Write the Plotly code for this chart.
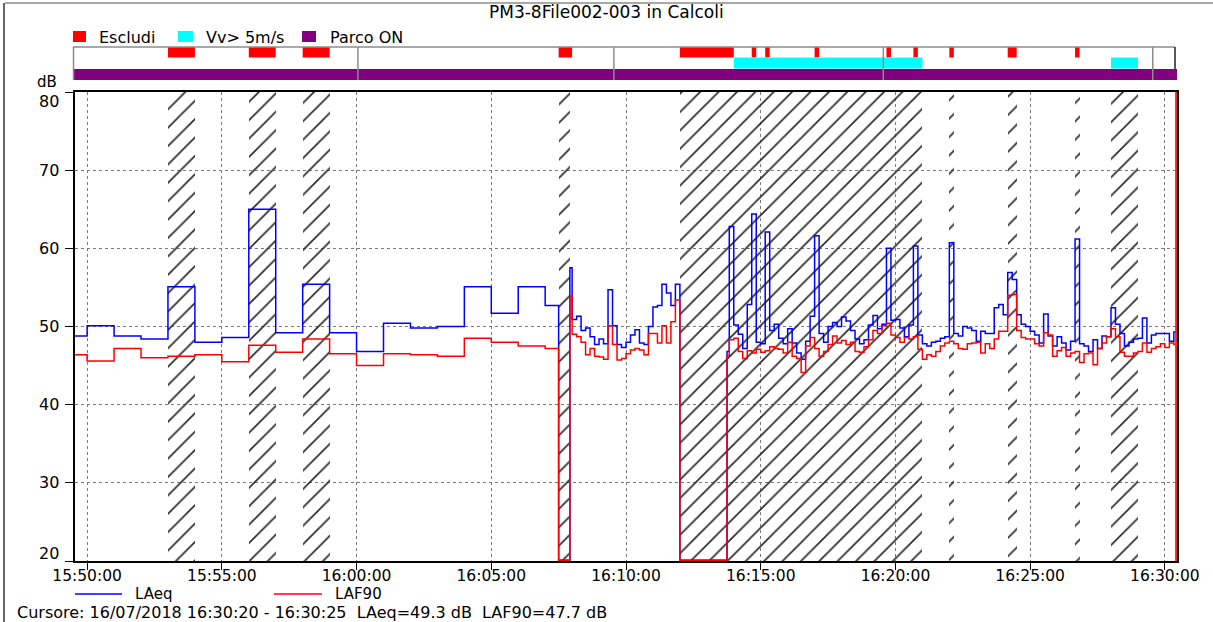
import pandas as pd
import plotly.graph_objects as go

DAY = "2018-07-16 "
T = lambda s: pd.Timestamp(DAY + s)

# ---------------- data ----------------
# 1-minute block (first interval starts at 15:49:33)
min_block_first = "15:49:33"
min_block_start = "15:50:00"
laeq_min = [48.8, 50.1, 48.8, 48.4, 55.1, 48.0, 48.6, 65.0, 49.2, 55.4,
            49.2, 46.8, 50.4, 49.8, 50.0, 55.1, 51.7, 55.1, 52.7]
laf90_min = [46.4, 45.6, 47.2, 46.0, 46.2, 46.4, 45.5, 47.6, 46.7, 48.4,
             46.5, 45.0, 46.5, 46.4, 46.2, 48.5, 48.0, 47.5, 47.2]

# missing data (drawn at bottom of scale)
gap_starts = ["16:07:30", "16:12:00"]
gap_value = 20.1

# short intervals
short_starts = ["16:07:55", "16:13:45"]
laeq_short = [57.5, 46.8]
laf90_short = [53.9, 46.3]

# 10-second block 1 (16:08:00 - 16:12:00)
b1_start = "16:08:00"
laeq_b1 = [50.9, 51.3, 49.5, 49.8, 48.7, 47.7, 48.4, 47.8, 54.7, 50.1,
           47.7, 47.3, 48.0, 48.9, 49.6, 47.9, 47.7, 50.0, 52.5, 52.7,
           55.4, 54.3, 52.7, 55.4]
laf90_b1 = [49.0, 48.7, 48.0, 46.4, 47.2, 46.2, 46.1, 45.8, 50.1, 47.7,
            45.7, 45.9, 46.5, 47.0, 47.2, 47.0, 46.4, 49.1, 49.1, 47.9,
            50.1, 47.9, 50.6, 53.4]

# 10-second block 2 (16:13:50 - 16:22:00)
b2_start = "16:13:50"
laeq_b2 = [62.8, 50.2, 49.0, 47.2, 52.8, 64.4, 48.0, 47.8, 62.1, 49.5,
           50.3, 48.5, 47.8, 49.7, 47.9, 46.6, 45.8, 48.1, 51.3, 61.6,
           49.1, 48.0, 50.0, 50.5, 50.0, 51.2, 50.7, 49.5, 48.4, 47.8,
           48.3, 50.2, 51.4, 49.7, 50.3, 60.0, 50.8, 50.9, 49.8, 48.7,
           50.2, 60.3, 48.9, 47.8, 47.5, 48.0, 48.1, 48.5, 48.7]
laf90_b2 = [48.3, 48.5, 46.8, 45.9, 46.9, 46.6, 47.1, 46.7, 46.9, 47.4,
            47.2, 47.1, 46.6, 48.0, 46.2, 45.9, 44.1, 47.5, 48.6, 47.2,
            46.2, 46.8, 47.7, 48.8, 47.9, 48.2, 47.7, 48.0, 46.8, 46.7,
            47.4, 48.3, 49.5, 49.1, 50.1, 50.4, 48.9, 48.6, 48.0, 48.6,
            48.4, 48.7, 47.1, 45.8, 46.4, 46.2, 46.8, 47.5, 47.9]

# 10-second block 3 (16:22:00 - 16:30:20)
b3_start = "16:22:00"
laeq_b3 = [60.7, 49.1, 48.8, 50.0, 49.8, 49.5, 48.1, 49.4, 49.1, 49.1,
           52.4, 52.8, 51.5, 56.9, 56.0, 51.5, 50.3, 50.0, 49.4, 48.9,
           47.9, 51.6, 48.8, 47.5, 48.7, 47.9, 47.0, 48.1, 61.2, 47.8,
           47.5, 46.8, 48.3, 47.2, 48.8, 48.7, 52.4, 50.3, 49.1, 47.5,
           48.0, 48.4, 48.5, 51.1, 47.9, 48.9, 49.1, 49.1, 49.1, 48.1]
laf90_b3 = [48.1, 47.8, 47.2, 47.1, 47.8, 47.9, 48.0, 46.6, 47.8, 47.2,
            48.4, 49.4, 49.4, 54.0, 54.1, 49.5, 48.6, 48.4, 48.4, 47.8,
            47.5, 49.2, 48.9, 46.2, 46.9, 47.3, 46.2, 46.6, 46.8, 45.4,
            46.5, 46.6, 45.1, 47.2, 47.9, 48.7, 49.7, 48.7, 46.7, 46.2,
            46.2, 46.6, 46.8, 47.9, 46.7, 47.2, 47.4, 47.8, 47.3, 47.9]

# cursor interval
cursor_start, cursor_end = "16:30:20", "16:30:25"
laeq_cursor, laf90_cursor = 49.3, 47.7

# excluded / wind / park-on markers
esc_start = ["15:53:00", "15:56:00", "15:58:00", "16:07:30", "16:12:00", "16:14:40", "16:15:10",
             "16:17:00", "16:19:40", "16:20:40", "16:22:00", "16:24:10", "16:26:40"]
esc_end = ["15:54:00", "15:57:00", "15:59:00", "16:08:00", "16:14:00", "16:14:50", "16:15:20",
           "16:17:10", "16:19:50", "16:20:50", "16:22:10", "16:24:30", "16:26:50"]
vv_start = ["16:14:00", "16:28:00"]
vv_end = ["16:21:00", "16:29:00"]
hatch_start = ["15:53:00", "15:56:00", "15:58:00", "16:07:30", "16:12:00", "16:22:00",
               "16:24:10", "16:26:40", "16:28:00"]
hatch_end = ["15:54:00", "15:57:00", "15:59:00", "16:07:55", "16:21:00", "16:22:10",
             "16:24:30", "16:26:50", "16:29:00"]
band_marks = ["16:00:03", "16:09:33", "16:19:33", "16:29:33"]
file_marks = ["16:07:43", "16:12:56"]

X_RANGE = ["15:49:33", "16:30:27"]
Y_RANGE = [20, 80]
Y_TICKS = [20, 30, 40, 50, 60, 70, 80]

# ---------------- build step series ----------------
times, laeq, laf90 = [], [], []

def add(start, vals_a, vals_b, step_s):
    t0 = T(start)
    for i, (a, b) in enumerate(zip(vals_a, vals_b)):
        times.append(t0 + pd.Timedelta(seconds=step_s * i))
        laeq.append(a)
        laf90.append(b)

times.append(T(min_block_first)); laeq.append(laeq_min[0]); laf90.append(laf90_min[0])
add(min_block_start, laeq_min[1:], laf90_min[1:], 60)
times.append(T(gap_starts[0])); laeq.append(gap_value); laf90.append(gap_value)
add(short_starts[0], [laeq_short[0]], [laf90_short[0]], 5)
add(b1_start, laeq_b1, laf90_b1, 10)
times.append(T(gap_starts[1])); laeq.append(gap_value); laf90.append(gap_value)
add(short_starts[1], [laeq_short[1]], [laf90_short[1]], 5)
add(b2_start, laeq_b2, laf90_b2, 10)
add(b3_start, laeq_b3, laf90_b3, 10)
times.append(T(cursor_start)); laeq.append(laeq_cursor); laf90.append(laf90_cursor)
times.append(T(cursor_end)); laeq.append(laeq_cursor); laf90.append(laf90_cursor)

# ---------------- figure ----------------
W, H = 1213, 622
ML, MR, MT, MB = 75, 36, 92, 61
PW, PH = W - ML - MR, H - MT - MB

def px(X):
    return (X - ML) / PW

def py(Y):
    return (H - MB - Y) / PH

FONT = "DejaVu Sans"
fig = go.Figure()

# hatched (excluded) regions
hs = [T(s) for s in hatch_start]
he = [T(s) for s in hatch_end]
fig.add_trace(go.Bar(
    x=hs, y=[Y_RANGE[1] - Y_RANGE[0]] * len(hs), base=Y_RANGE[0],
    width=[(e - s).total_seconds() * 1000 for s, e in zip(hs, he)], offset=0,
    marker=dict(color="rgba(0,0,0,0)", line=dict(width=0),
                pattern=dict(shape="/", fgcolor="#2a2a2a", bgcolor="rgba(0,0,0,0)", fgopacity=1,
                             size=13, solidity=0.13, fillmode="overlay")),
    hoverinfo="skip", showlegend=False))

fig.add_trace(go.Scatter(x=times, y=laeq, mode="lines", line=dict(color="#0000ff", width=1.5, shape="hv"),
                         name="LAeq", showlegend=False))
fig.add_trace(go.Scatter(x=times, y=laf90, mode="lines", line=dict(color="#ff0000", width=1.5, shape="hv"),
                         name="LAF90", showlegend=False))

# file markers (blue triangles above the plot)
fig.add_trace(go.Scatter(x=[T(s) for s in file_marks], y=[81.2] * len(file_marks), mode="markers",
                         marker=dict(symbol="triangle-down", size=8, color="#0000ff"),
                         cliponaxis=False, showlegend=False, hoverinfo="skip"))

shapes = []
# frame lines
shapes.append(dict(type="line", xref="paper", yref="paper", x0=px(5), x1=px(1213), y0=py(3), y1=py(3),
                   line=dict(color="#8c8c8c", width=1.5)))
shapes.append(dict(type="line", xref="paper", yref="paper", x0=px(4), x1=px(4), y0=py(3), y1=py(622),
                   line=dict(color="#333333", width=1.5)))

# band: purple full row
shapes.append(dict(type="rect", xref="paper", yref="paper", x0=px(73), x1=px(1177), y0=py(80), y1=py(69),
                   fillcolor="#800080", line=dict(width=0)))
for s, e in zip(esc_start, esc_end):
    shapes.append(dict(type="rect", xref="x", yref="paper", x0=T(s), x1=T(e), y0=py(57.5), y1=py(47),
                       fillcolor="#ff0000", line=dict(width=0)))
for s, e in zip(vv_start, vv_end):
    shapes.append(dict(type="rect", xref="x", yref="paper", x0=T(s), x1=T(e), y0=py(68.5), y1=py(57.5),
                       fillcolor="#00ffff", line=dict(width=0)))
# band box
shapes.append(dict(type="line", xref="paper", yref="paper", x0=px(73), x1=px(1175), y0=py(47), y1=py(47),
                   line=dict(color="#8c8c8c", width=1.5)))
shapes.append(dict(type="line", xref="paper", yref="paper", x0=px(73.5), x1=px(73.5), y0=py(80), y1=py(47),
                   line=dict(color="#8c8c8c", width=1.5)))
shapes.append(dict(type="line", xref="paper", yref="paper", x0=px(1175), x1=px(1175), y0=py(69), y1=py(47),
                   line=dict(color="#222222", width=1.5)))
for s in band_marks:
    shapes.append(dict(type="line", xref="x", yref="paper", x0=T(s), x1=T(s), y0=py(80), y1=py(47),
                       line=dict(color="#8c8c8c", width=1.5)))

# cursor line
shapes.append(dict(type="line", xref="x", yref="paper", x0=T(cursor_end), x1=T(cursor_end), y0=0, y1=1,
                   line=dict(color="#ff2020", width=2)))

# band legend squares
for (x0, x1, c) in [(73, 86, "#ff0000"), (178, 193, "#00ffff"), (302, 316, "#800080")]:
    shapes.append(dict(type="rect", xref="paper", yref="paper", x0=px(x0), x1=px(x1), y0=py(42), y1=py(31),
                       fillcolor=c, line=dict(width=0)))
# bottom legend lines
LEG_Y = 594
shapes.append(dict(type="line", xref="paper", yref="paper", x0=px(75), x1=px(122), y0=py(LEG_Y), y1=py(LEG_Y),
                   line=dict(color="#0000ff", width=1.5)))
shapes.append(dict(type="line", xref="paper", yref="paper", x0=px(274), x1=px(322), y0=py(LEG_Y), y1=py(LEG_Y),
                   line=dict(color="#ff0000", width=1.5)))

annotations = [
    dict(text="PM3-8File002-003 in Calcoli", xref="paper", yref="paper", x=px(606), y=py(12),
         xanchor="center", yanchor="middle", showarrow=False, font=dict(size=17)),
    dict(text="Escludi", xref="paper", yref="paper", x=px(97), y=py(37),
         xanchor="left", yanchor="middle", showarrow=False, font=dict(size=16)),
    dict(text="Vv&gt; 5m/s", xref="paper", yref="paper", x=px(204), y=py(37),
         xanchor="left", yanchor="middle", showarrow=False, font=dict(size=16)),
    dict(text="Parco ON", xref="paper", yref="paper", x=px(328), y=py(37),
         xanchor="left", yanchor="middle", showarrow=False, font=dict(size=16)),
    dict(text="dB", xref="paper", yref="paper", x=px(47), y=py(82),
         xanchor="center", yanchor="middle", showarrow=False, font=dict(size=15)),
    dict(text="LAeq", xref="paper", yref="paper", x=px(133), y=py(LEG_Y),
         xanchor="left", yanchor="middle", showarrow=False, font=dict(size=15)),
    dict(text="LAF90", xref="paper", yref="paper", x=px(333), y=py(LEG_Y),
         xanchor="left", yanchor="middle", showarrow=False, font=dict(size=15)),
    dict(text="Cursore: 16/07/2018 16:30:20 - 16:30:25\u00a0\u00a0LAeq=49.3 dB\u00a0\u00a0LAF90=47.7 dB",
         xref="paper", yref="paper", x=px(15), y=py(612.5),
         xanchor="left", yanchor="middle", showarrow=False, font=dict(size=16)),
]
# y tick labels (end labels kept inside the axis span, as in the reference)
for v in Y_TICKS:
    shift = -9 if v == Y_RANGE[1] else (8 if v == Y_RANGE[0] else 0)
    annotations.append(dict(text=str(v), xref="paper", yref="y", x=px(61), y=v, yshift=shift,
                            xanchor="right", yanchor="middle", showarrow=False, font=dict(size=16)))

fig.update_layout(
    width=W, height=H, margin=dict(l=ML, r=MR, t=MT, b=MB),
    paper_bgcolor="white", plot_bgcolor="white", showlegend=False,
    font=dict(family=FONT, size=16, color="black"),
    shapes=shapes, annotations=annotations, bargap=0,
    xaxis=dict(type="date", range=[T(X_RANGE[0]), T(X_RANGE[1])], tickformat="%H:%M:%S",
               tick0=T("15:50:00"), dtick=300000, ticks="outside", ticklen=7, tickcolor="black",
               ticklabelstandoff=-7,
               showline=True, linecolor="black", linewidth=1.5, mirror=True,
               showgrid=True, gridcolor="#7a7a7a", griddash="dot", gridwidth=1, zeroline=False,
               tickfont=dict(size=15.5)),
    yaxis=dict(range=Y_RANGE, tickvals=Y_TICKS, ticks="outside", ticklen=8, tickcolor="black",
               showticklabels=False,
               showline=True, linecolor="black", linewidth=1.5, mirror=True,
               showgrid=True, gridcolor="#7a7a7a", griddash="dot", gridwidth=1, zeroline=False),
)

fig.write_html("out.html")
